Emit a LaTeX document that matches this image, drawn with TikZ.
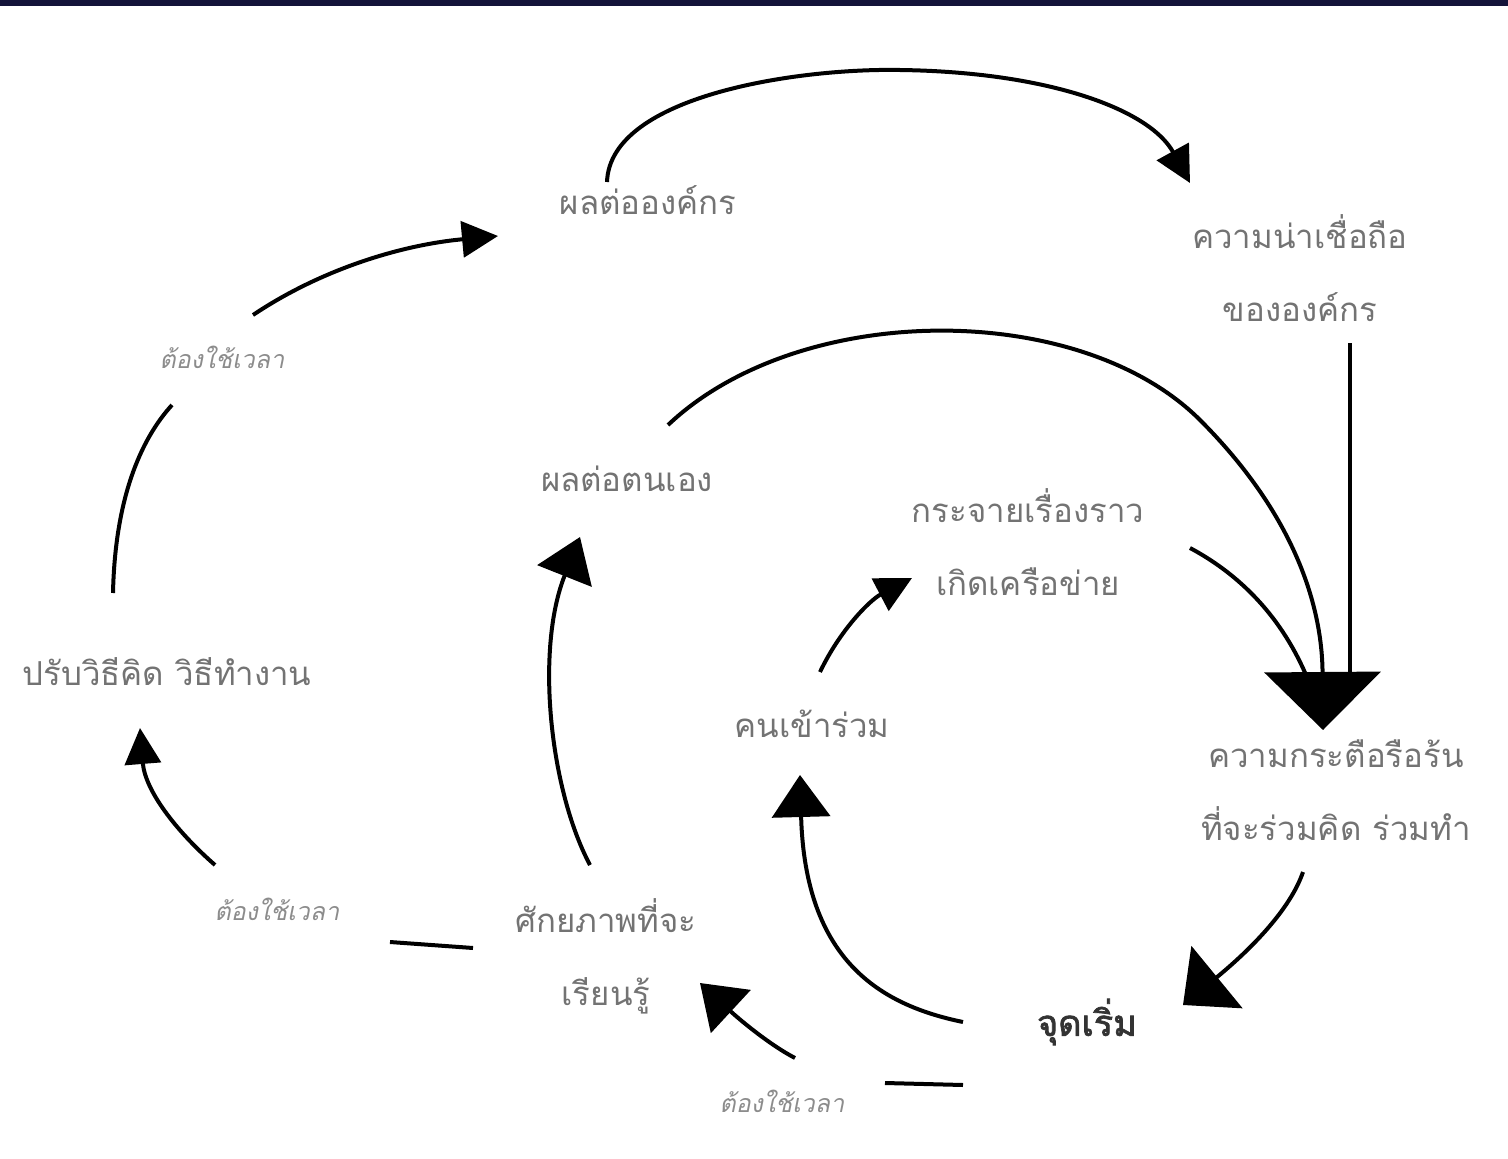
\documentclass[tikz,border=0pt]{standalone}
\usepackage{fontspec}
\usetikzlibrary{arrows.meta}
\newfontfamily\thai[Script=Thai]{Loma}
\newfontfamily\thaiit[Script=Thai,FakeSlant=0.2]{Loma}
\newfontfamily\thaibf[Script=Thai,FakeBold=2]{Loma}
\definecolor{navy}{HTML}{14143A}
\definecolor{txt}{HTML}{737373}
\definecolor{tlbl}{HTML}{8C8C8C}
\begin{document}
\begin{tikzpicture}[x=1pt,y=-1pt,
  lbl/.style={text=txt,font=\thai\fontsize{33}{73}\selectfont,align=center,inner sep=0pt},
  tlabel/.style={text=tlbl,font=\thaiit\fontsize{25}{28}\selectfont,inner sep=0pt},
  startlbl/.style={text=black!80,font=\thaibf\fontsize{36}{40}\selectfont,inner sep=0pt},
  conn/.style={line width=4pt,draw=black},
  tipS/.style={-{Triangle[length=36pt,width=36pt]}},
  tipM/.style={-{Triangle[length=42pt,width=58pt]}},
  tipL/.style={-{Triangle[length=58pt,width=116pt]}},
  tipD/.style={-{Triangle[length=44pt,width=80pt]}}]
\useasboundingbox (0,0) rectangle (1508,1159);
\fill[navy] (0,0) rectangle (1508,6);
% nodes
\node[lbl] (org) at (648,200) {ผลต่อองค์กร};
\node[lbl] (cred) at (1300,268) {ความน่าเชื่อถือ\\ขององค์กร};
\node[lbl] (self) at (627,479) {ผลต่อตนเอง};
\node[lbl] (spread) at (1028,542) {กระจายเรื่องราว\\เกิดเครือข่าย};
\node[lbl] (adapt) at (167,672) {ปรับวิธีคิด วิธีทำงาน};
\node[lbl] (join) at (812,724) {คนเข้าร่วม};
\node[lbl] (enth) at (1336,790) {ความกระตือรือร้น\\ที่จะร่วมคิด ร่วมทำ};
\node[lbl] (pot) at (606,956) {ศักยภาพที่จะ\\เรียนรู้};
\node[startlbl] (start) at (1087,1022) {จุดเริ่ม};
\node[tlabel] (t1) at (222,357) {ต้องใช้เวลา};
\node[tlabel] (t2) at (277,909) {ต้องใช้เวลา};
\node[tlabel] (t3) at (782,1101) {ต้องใช้เวลา};
% coordinates for connector ends
\coordinate (orgTop) at (607,182);
\coordinate (credIn) at (1190,183);
\coordinate (credOut) at (1350,343);
\coordinate (enthTop) at (1323,730);
\coordinate (selfOut) at (668,425);
\coordinate (spreadOut) at (1190,548);
\coordinate (enthOut) at (1303,872);
\coordinate (startIn) at (1183,1005);
\coordinate (startL) at (963,1022);
\coordinate (joinIn) at (800,775);
\coordinate (startB) at (963,1085);
\coordinate (potIn) at (700,983);
\coordinate (joinOut) at (820,672);
\coordinate (spreadIn) at (912,578);
\coordinate (potTop) at (590,865);
\coordinate (selfIn) at (580,537);
\coordinate (potL) at (473,948);
\coordinate (adaptIn) at (140,728);
\coordinate (adaptTop) at (113,593);
\coordinate (orgIn) at (498,236);
% connectors
\draw[conn,tipS] (orgTop) .. controls (610,95) and (800,68) .. (900,70)
   .. controls (1050,72) and (1150,110) .. (credIn);
\draw[conn] (credOut) -- (1350,690);
\draw[conn] (spreadOut) .. controls (1250,580) and (1290,630) .. (1312,690);
\draw[conn,tipL] (selfOut) .. controls (800,300) and (1080,300) .. (1200,420)
   .. controls (1290,510) and (1322,600) .. (enthTop);
\draw[conn,tipD] (enthOut) .. controls (1290,910) and (1250,950) .. (startIn);
\draw[conn,tipM] (startL) .. controls (880,1005) and (805,960) .. (joinIn);
\draw[conn,tipM] (startB) -- (885,1083) (795,1058) .. controls (770,1045) and (740,1020) .. (potIn);
\draw[conn,tipS] (joinOut) .. controls (840,630) and (870,600) .. (spreadIn);
\draw[conn,tipM] (potTop) .. controls (550,790) and (535,650) .. (selfIn);
\draw[conn,tipS] (potL) -- (390,942) (215,865) .. controls (175,830) and (145,790) .. (adaptIn);
\draw[conn,tipS] (adaptTop) .. controls (115,500) and (140,440) .. (172,405)
   (253,315) .. controls (320,270) and (400,245) .. (orgIn);
\end{tikzpicture}
\end{document}
